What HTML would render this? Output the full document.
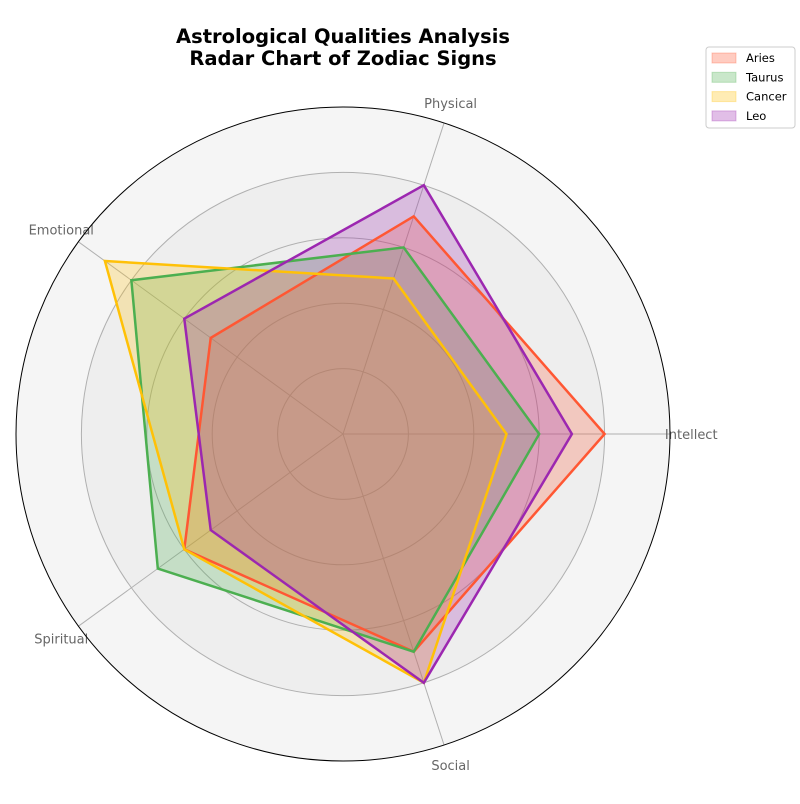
<!DOCTYPE html>
<html><head><meta charset="utf-8"><style>
body{margin:0;background:#fff;font-family:"DejaVu Sans","Liberation Sans",sans-serif}
</style></head><body>
<svg id="chart" width="800" height="800" xmlns="http://www.w3.org/2000/svg" font-family="DejaVu Sans, Liberation Sans, sans-serif">
<text x="343" y="43" text-anchor="middle" font-size="19.5" font-weight="bold">Astrological Qualities Analysis</text>
<text x="343" y="65" text-anchor="middle" font-size="19.5" font-weight="bold">Radar Chart of Zodiac Signs</text>
<g id="plot"></g>
<g id="legend"></g>
</svg>
<script>
const categories = ["Intellect","Physical","Emotional","Spiritual","Social"];
const seriesNames = ["Aries","Taurus","Cancer","Leo"];
const aries = [8,7,5,6,7];
const taurus = [6,6,8,7,7];
const cancer = [5,5,9,6,8];
const leo = [7,8,6,5,8];
const gridTicks = [2,4,6,8];
const maxVal = 10;

const allSeries=[aries,taurus,cancer,leo];
const colors=["#FF5733","#4CAF50","#FFC107","#9C27B0"];
const cx=343, cy=434, R=327;
const NS="http://www.w3.org/2000/svg";
const plot=document.getElementById('plot');
function mk(t,a,p){const e=document.createElementNS(NS,t);for(const k in a)e.setAttribute(k,a[k]);(p||plot).appendChild(e);return e;}
function rScale(v){return v/maxVal*R;}
function ang(i){return i*2*Math.PI/categories.length;}
function pt(i,v){const r=rScale(v),a=ang(i);return [cx+r*Math.cos(a),cy-r*Math.sin(a)];}

let bg=mk('circle',{cx,cy,r:R,fill:'#f5f5f5'});


let band=mk('circle',{cx,cy,r:rScale(8),fill:'#eeeeee'});


gridTicks.forEach(t=>{
  const c=mk('circle',{cx,cy,r:rScale(t),fill:'none',stroke:'#b0b0b0','stroke-width':1});
  
  
});
categories.forEach((c,i)=>{
  const [x,y]=pt(i,maxVal);
  const l=mk('line',{x1:cx,y1:cy,x2:x,y2:y,stroke:'#b0b0b0','stroke-width':1});
  
  
  const [lx,ly]=pt(i,maxVal*1.065);
  const t=mk('text',{x:lx,y:ly+5,'text-anchor':'middle','font-size':13,fill:'#666'});
  t.textContent=c;
  
  
});
let ob=mk('circle',{cx,cy,r:R,fill:'none',stroke:'#000','stroke-width':1});



allSeries.forEach((s,k)=>{
  const pts=s.map((v,i)=>pt(i,v).join(',')).join(' ');
  const f=mk('polygon',{points:pts,fill:colors[k],'fill-opacity':0.25,stroke:'none'});
  
  
});
allSeries.forEach((s,k)=>{
  const pts=s.map((v,i)=>pt(i,v).join(',')).join(' ');
  const p=mk('polygon',{points:pts,fill:'none',stroke:colors[k],'stroke-width':2.5,'stroke-linejoin':'miter'});
  
  
});

const lg=document.getElementById('legend');
const box=mk('rect',{x:706,y:47,width:89,height:81,rx:3,fill:'#fff',stroke:'#ccc'},lg);


seriesNames.forEach((n,k)=>{
  const y=58+k*19.3;
  const sw=mk('rect',{x:712,y:y-5,width:24,height:10,fill:colors[k],'fill-opacity':0.3,stroke:colors[k],'stroke-opacity':0.3},lg);
  
  
  const t=mk('text',{x:746,y:y+4,'font-size':11.5,fill:'#000'},lg);
  t.textContent=n;
  
  
});
</script>
</body></html>
